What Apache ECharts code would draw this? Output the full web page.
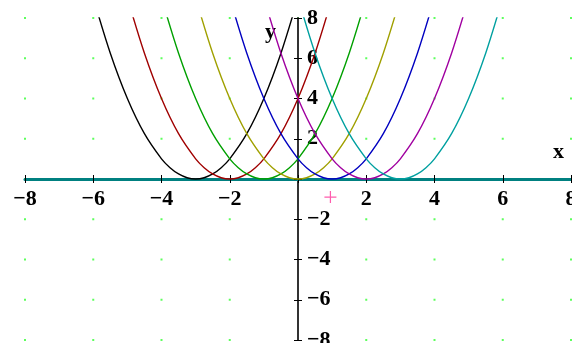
<!DOCTYPE html>
<html>
<head>
<meta charset="utf-8">
<title>Shifted parabolas</title>
<script src="https://cdn.jsdelivr.net/npm/echarts@6/dist/echarts.min.js"></script>
<style>
  html, body { margin: 0; padding: 0; background: #fff; }
  #main { width: 572px; height: 343px; }
</style>
</head>
<body>
<div id="main"></div>
<script>
// one parabola: x offset from its vertex, height
var offsets = [-3, -2.5, -2, -1.5, -1, -0.75, -0.5, -0.25, 0, 0.25, 0.5, 0.75, 1, 1.5, 2, 2.5, 3];
var heights = [9, 6.25, 4, 2.25, 1, 0.5625, 0.25, 0.0625, 0, 0.0625, 0.25, 0.5625, 1, 2.25, 4, 6.25, 9];
// vertex of each curve and its colour
var vertices = [-3, -2, -1, 0, 1, 2, 3];
var colors = ['#000000', '#a00000', '#00a000', '#a0a000', '#0000c0', '#a000a0', '#00a0a0'];
// tick values (dots of the grid sit on them)
var ticks = [-8, -6, -4, -2, 0, 2, 4, 6, 8];
// pink cursor mark
var cursor = [[0.95, -0.9]];

var chartDom = document.getElementById('main');
var chart = echarts.init(chartDom);

var gridLeft = 25, gridRight = 1, gridTop = 18, gridBottom = 3;
var gridW = 572 - gridLeft - gridRight;
var gridH = 343 - gridTop - gridBottom;

var labelFont = {
    fontFamily: 'Liberation Serif',
    fontWeight: 'bold',
    fontSize: 22,
    color: '#000'
};

function tickLabel(v) {
    if (v === 0) return '';
    return v < 0 ? '\u2212' + (-v) : String(v);
}

var dots = [];
ticks.forEach(function (x) {
    ticks.forEach(function (y) {
        dots.push([x, y]);
    });
});

var series = [{
    type: 'scatter',
    z: -1,
    silent: true,
    symbol: 'rect',
    symbolSize: 2,
    itemStyle: { color: '#33ff33' },
    data: dots
}];

vertices.forEach(function (v, i) {
    var pts = offsets.map(function (o, k) {
        return [v + o, heights[k]];
    });
    series.push({
        type: 'line',
        smooth: 0.3,
        showSymbol: false,
        clip: true,
        lineStyle: { color: colors[i], width: 1.4 },
        data: pts
    });
});

series.push({
    type: 'scatter',
    symbol: 'path://M4.5,0H5.5V4.5H10V5.5H5.5V10H4.5V5.5H0V4.5H4.5Z',
    symbolSize: 12,
    itemStyle: { color: '#ff3399' },
    data: cursor
});

// ticks only, on the other side of each axis, so they cross the line
var tickOnly = {
    type: 'value',
    min: -8,
    max: 8,
    interval: 2,
    axisLine: { show: false, onZero: false },
    axisTick: { show: true, length: 4, lineStyle: { color: '#000', width: 1 } },
    axisLabel: { show: false },
    splitLine: { show: false }
};

var option = {
    animation: false,
    backgroundColor: '#fff',
    grid: { left: gridLeft, right: gridRight, top: gridTop, bottom: gridBottom, outerBoundsMode: 'none', containLabel: false },
    xAxis: [{
        type: 'value',
        position: 'bottom',
        offset: -gridH / 2,
        min: -8,
        max: 8,
        interval: 2,
        axisLine: { onZero: false, lineStyle: { color: '#008080', width: 3 } },
        axisTick: { show: true, length: 4, lineStyle: { color: '#000', width: 1 } },
        axisLabel: Object.assign({ margin: 9, formatter: tickLabel, showMinLabel: true, showMaxLabel: true }, labelFont),
        splitLine: { show: false }
    }, Object.assign({ position: 'top', offset: -gridH / 2 }, tickOnly)],
    yAxis: [{
        type: 'value',
        position: 'right',
        offset: -gridW / 2,
        min: -8,
        max: 8,
        interval: 2,
        axisLine: { onZero: false, lineStyle: { color: '#333', width: 2 } },
        axisTick: { show: true, length: 4, lineStyle: { color: '#000', width: 1 } },
        axisLabel: Object.assign({ margin: 9, formatter: tickLabel, showMinLabel: true, showMaxLabel: true }, labelFont),
        splitLine: { show: false }
    }, Object.assign({ position: 'left', offset: -gridW / 2 }, tickOnly)],
    graphic: [
        { type: 'text', left: 265, top: 21, style: { text: 'y', font: 'bold 22px "Liberation Serif"', fill: '#000' } },
        { type: 'text', left: 553, top: 141, style: { text: 'x', font: 'bold 22px "Liberation Serif"', fill: '#000' } }
    ],
    series: series
};

option && chart.setOption(option);
</script>
</body>
</html>
